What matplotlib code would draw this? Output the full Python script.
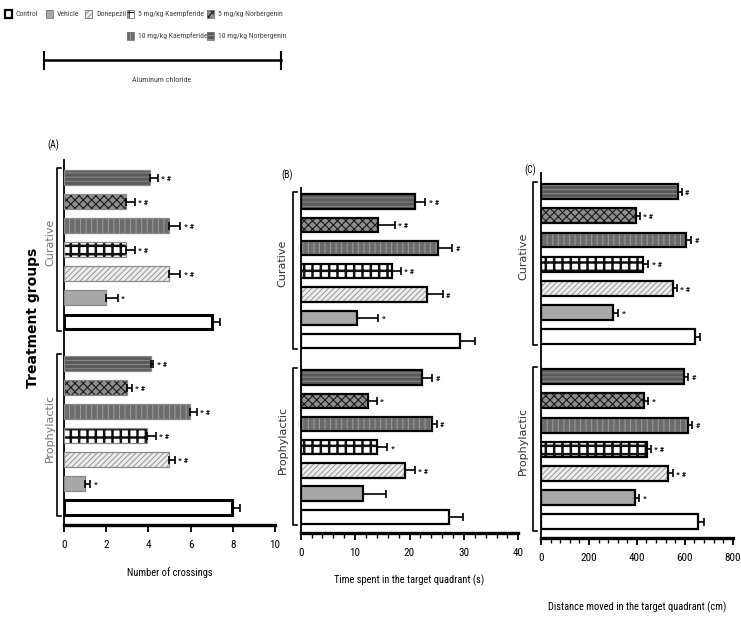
import numpy as np
import matplotlib
matplotlib.use('Agg')
import matplotlib.pyplot as plt
from matplotlib.patches import Rectangle
from matplotlib.lines import Line2D
import matplotlib.transforms as mtransforms
from matplotlib.ticker import MultipleLocator
from matplotlib import font_manager as fm

# pick a narrow font if one is installed
_fonts = fm.fontManager.ttflist
_names = {f.name for f in _fonts}
NARROW = None
NARROW_STRETCH = 'normal'
for cand in ['Liberation Sans Narrow', 'Roboto Condensed', 'Open Sans Condensed', 'DejaVu Sans Condensed']:
    if cand in _names:
        NARROW = cand
        break
if NARROW is None:
    for f in _fonts:
        if f.name in ('DejaVu Sans', 'Roboto', 'Open Sans', 'Noto Sans', 'Inter') and \
                str(f.stretch) in ('condensed', 'semi-condensed', 'extra-condensed', '75', '62.5', '87.5'):
            NARROW = f.name
            NARROW_STRETCH = 'condensed'
            break
if NARROW is None:
    NARROW = 'Liberation Sans'
    NARROW_SCALE = 0.8
else:
    NARROW_SCALE = 1.0

plt.rcParams['font.family'] = [NARROW, 'Liberation Sans', 'DejaVu Sans']
plt.rcParams['font.stretch'] = NARROW_STRETCH
plt.rcParams['hatch.linewidth'] = 0.7

# ---------------- data (bottom-to-top order within each regimen) ----------------
groups = ['Control', 'Vehicle', 'Donepezil', '5 mg/kg Kaempferide',
          '10 mg/kg Kaempferide', '5 mg/kg Norbergenin', '10 mg/kg Norbergenin']
legend_order = ['Control', 'Vehicle', 'Donepezil', '5 mg/kg Kaempferide',
                '5 mg/kg Norbergenin', '10 mg/kg Kaempferide', '10 mg/kg Norbergenin']
regimens = ['Prophylactic', 'Curative']

crossings_prophylactic = [7.95, 0.98, 4.96, 3.95, 5.98, 3.0, 4.1]
crossings_prophylactic_err = [0.40, 0.27, 0.29, 0.40, 0.32, 0.20, 0.12]
crossings_prophylactic_sig = ['', '*', '* #', '* #', '* #', '* #', '* #']
crossings_curative = [7.0, 1.98, 4.96, 2.96, 4.96, 2.96, 4.06]
crossings_curative_err = [0.38, 0.57, 0.54, 0.39, 0.54, 0.39, 0.39]
crossings_curative_sig = ['', '*', '* #', '* #', '* #', '* #', '* #']

time_prophylactic = [27.3, 11.5, 19.2, 14.1, 24.1, 12.3, 22.3]
time_prophylactic_err = [2.6, 4.1, 1.8, 1.8, 0.9, 1.7, 1.8]
time_prophylactic_sig = ['', '', '* #', '*', '#', '*', '#']
time_curative = [29.2, 10.3, 23.3, 16.7, 25.2, 14.2, 21.0]
time_curative_err = [2.8, 4.0, 2.8, 1.7, 2.6, 3.1, 1.9]
time_curative_sig = ['', '*', '#', '* #', '#', '* #', '* #']

distance_prophylactic = [657, 392, 529, 441, 612, 430, 597]
distance_prophylactic_err = [23, 18, 21, 17, 20, 18, 18]
distance_prophylactic_sig = ['', '*', '* #', '* #', '#', '*', '#']
distance_curative = [643, 302, 552, 427, 605, 396, 573]
distance_curative_err = [21, 21, 14, 21, 20, 17, 14]
distance_curative_sig = ['', '*', '* #', '* #', '#', '* #', '#']

panel_titles = ['(A)', '(B)', '(C)']
xlabels = ['Number of crossings', 'Time spent in the target quadrant (s)',
           'Distance moved in the target quadrant (cm)']
ylabel_text = 'Treatment groups'
treatment_text = 'Aluminum chloride'

# ---------------- styles ----------------
styles = {
    'Control': dict(fc='#ffffff', hatch=None, hc='#ffffff', hlw=0.7),
    'Vehicle': dict(fc='#a8a8a8', hatch=None, hc='#a8a8a8', hlw=0.7),
    'Donepezil': dict(fc='#ececec', hatch='//////', hc='#9a9a9a', hlw=0.7),
    '5 mg/kg Kaempferide': dict(fc='#ffffff', hatch='++', hc='#111111', hlw=1.8),
    '10 mg/kg Kaempferide': dict(fc='#6c6c6c', hatch='|||', hc='#9c9c9c', hlw=0.7),
    '5 mg/kg Norbergenin': dict(fc='#8c8c8c', hatch='xxxx', hc='#1a1a1a', hlw=0.8),
    '10 mg/kg Norbergenin': dict(fc='#5a5a5a', hatch='----', hc='#8a8a8a', hlw=0.7),
}

W, H = 741, 618
fig = plt.figure(figsize=(W / 100, H / 100), dpi=100)


def rect(x0, x1, top, bot):
    return [x0 / W, 1 - bot / H, (x1 - x0) / W, (bot - top) / H]


panels = [
    dict(rect=rect(64, 275, 160, 525), gap=1.73, ylim=(-0.72, 14.47), xmax=10, major=2, minor=None,
         data=[(crossings_prophylactic, crossings_prophylactic_err, crossings_prophylactic_sig),
               (crossings_curative, crossings_curative_err, crossings_curative_sig)],
         panelA=True, brk_dx=-7, lab_dx=-14, labcol='#777777', title_xy=(53, 145), xlabel_y=573),
    dict(rect=rect(300.7, 518.3, 188, 533), gap=1.58, ylim=(-0.7, 14.17), xmax=40, major=10, minor=2,
         data=[(time_prophylactic, time_prophylactic_err, time_prophylactic_sig),
               (time_curative, time_curative_err, time_curative_sig)],
         panelA=False, brk_dx=-7.7, lab_dx=-18, labcol='#333333', title_xy=(287, 175), xlabel_y=580),
    dict(rect=rect(541, 732.7, 173, 538), gap=1.65, ylim=(-0.67, 14.42), xmax=800, major=200, minor=40,
         data=[(distance_prophylactic, distance_prophylactic_err, distance_prophylactic_sig),
               (distance_curative, distance_curative_err, distance_curative_sig)],
         panelA=False, brk_dx=-8.3, lab_dx=-18, labcol='#333333', title_xy=(530, 170), xlabel_y=607),
]

bar_h = 0.62
n = len(groups)
fs_small = 6.5 * NARROW_SCALE

for pi, p in enumerate(panels):
    ax = fig.add_axes(p['rect'])
    ax_w_px = p['rect'][2] * W
    offsets = [0.0, (n - 1) + p['gap']]
    for ri, (vals, errs, sigs) in enumerate(p['data']):
        pos = np.arange(n) + offsets[ri]
        for gi, g in enumerate(groups):
            st = styles[g]
            with plt.rc_context({'hatch.linewidth': st['hlw']}):
                ax.barh(pos[gi], vals[gi], height=bar_h, color=st['fc'], hatch=st['hatch'],
                        edgecolor=st['hc'], linewidth=0, zorder=2)
            if p['panelA']:
                if g == 'Control':
                    ec, lw = 'black', 2.2
                else:
                    ec, lw = '#8a8a8a', 0.9
            else:
                ec, lw = 'black', 1.6
            ax.barh(pos[gi], vals[gi], height=bar_h, fill=False, edgecolor=ec, linewidth=lw, zorder=3)
        ax.errorbar(vals, pos, xerr=[np.zeros(n), errs], fmt='none', ecolor='black',
                    elinewidth=1.2, capsize=3, capthick=1.2, zorder=4)
        for gi in range(n):
            if sigs[gi]:
                ax.annotate(sigs[gi], xy=(vals[gi] + errs[gi], pos[gi]), xytext=(2.5, -0.5),
                            textcoords='offset points', va='center', ha='left',
                            fontsize=6, fontweight='bold', color='#111111',
                            annotation_clip=False)
        # bracket
        trans = mtransforms.blended_transform_factory(ax.transAxes, ax.transData)
        bx = p['brk_dx'] / ax_w_px
        tick = 4 / ax_w_px
        y0 = pos[0] - bar_h / 2 - 0.05
        y1 = pos[-1] + bar_h / 2 + 0.1
        ax.add_line(Line2D([bx + tick, bx, bx, bx + tick], [y0, y0, y1, y1], transform=trans,
                           color='black', lw=1.2, clip_on=False))
        ax.text(p['lab_dx'] / ax_w_px, (y0 + y1) / 2 + 0.3, regimens[ri], transform=trans,
                rotation=90, ha='center', va='center', fontsize=8, color=p['labcol'],
                family='DejaVu Sans', fontstretch='normal')
    ax.set_xlim(0, p['xmax'])
    ax.set_ylim(*p['ylim'])
    ax.xaxis.set_major_locator(MultipleLocator(p['major']))
    if p['minor']:
        ax.xaxis.set_minor_locator(MultipleLocator(p['minor']))
    for s in ['top', 'right']:
        ax.spines[s].set_visible(False)
    ax.spines['left'].set_linewidth(1.3)
    ax.spines['bottom'].set_linewidth(2.4)
    ax.set_yticks([])
    ax.tick_params(axis='x', which='major', length=5, width=1.3, labelsize=7.5 * NARROW_SCALE + 0.5, pad=6)
    ax.tick_params(axis='x', which='minor', length=3.5, width=1.0)
    fig.text(p['title_xy'][0] / W, 1 - p['title_xy'][1] / H, panel_titles[pi],
             fontsize=7, ha='center', va='center')
    cx = (p['rect'][0] + p['rect'][2] / 2)
    fig.text(cx, 1 - p['xlabel_y'] / H, xlabels[pi], fontsize=7.5 * NARROW_SCALE,
             ha='center', va='center')

# y label
fig.text(33 / W, 1 - 318 / H, ylabel_text, rotation=90, ha='center', va='center',
         fontsize=10, fontweight='bold', family='DejaVu Sans', fontstretch='normal')

# legend (manual)
leg_pos = {
    'Control': (8, 14), 'Vehicle': (49, 14), 'Donepezil': (88, 14),
    '5 mg/kg Kaempferide': (130, 14), '5 mg/kg Norbergenin': (210, 14),
    '10 mg/kg Kaempferide': (130, 36), '10 mg/kg Norbergenin': (210, 36),
}
sq = 7
for g in legend_order:
    x, y = leg_pos[g]
    st = styles[g]
    with plt.rc_context({'hatch.linewidth': min(st['hlw'], 0.8)}):
        fig.add_artist(Rectangle(((x - sq / 2) / W, 1 - (y + sq / 2) / H), sq / W, sq / H,
                                 transform=fig.transFigure, facecolor=st['fc'], hatch=st['hatch'],
                                 edgecolor=st['hc'], linewidth=0))
    fig.add_artist(Rectangle(((x - sq / 2) / W, 1 - (y + sq / 2) / H), sq / W, sq / H,
                             transform=fig.transFigure, fill=False,
                             edgecolor='black' if g == 'Control' else '#777777',
                             linewidth=1.6 if g == 'Control' else 0.6))
    fig.text((x + 8) / W, 1 - y / H, g, fontsize=5.6 * NARROW_SCALE, ha='left', va='center',
             color='#444444')

# aluminum chloride line
fig.add_artist(Line2D([44 / W, 281 / W], [1 - 60 / H, 1 - 60 / H], transform=fig.transFigure,
                      color='black', lw=1.8))
for xx in (44, 281):
    fig.add_artist(Line2D([xx / W, xx / W], [1 - 52 / H, 1 - 69 / H], transform=fig.transFigure,
                          color='black', lw=1.5))
fig.text(162 / W, 1 - 80 / H, treatment_text, fontsize=5.8 * NARROW_SCALE, ha='center', va='center',
         color='#444444')

fig.savefig('out.png', dpi=100)
